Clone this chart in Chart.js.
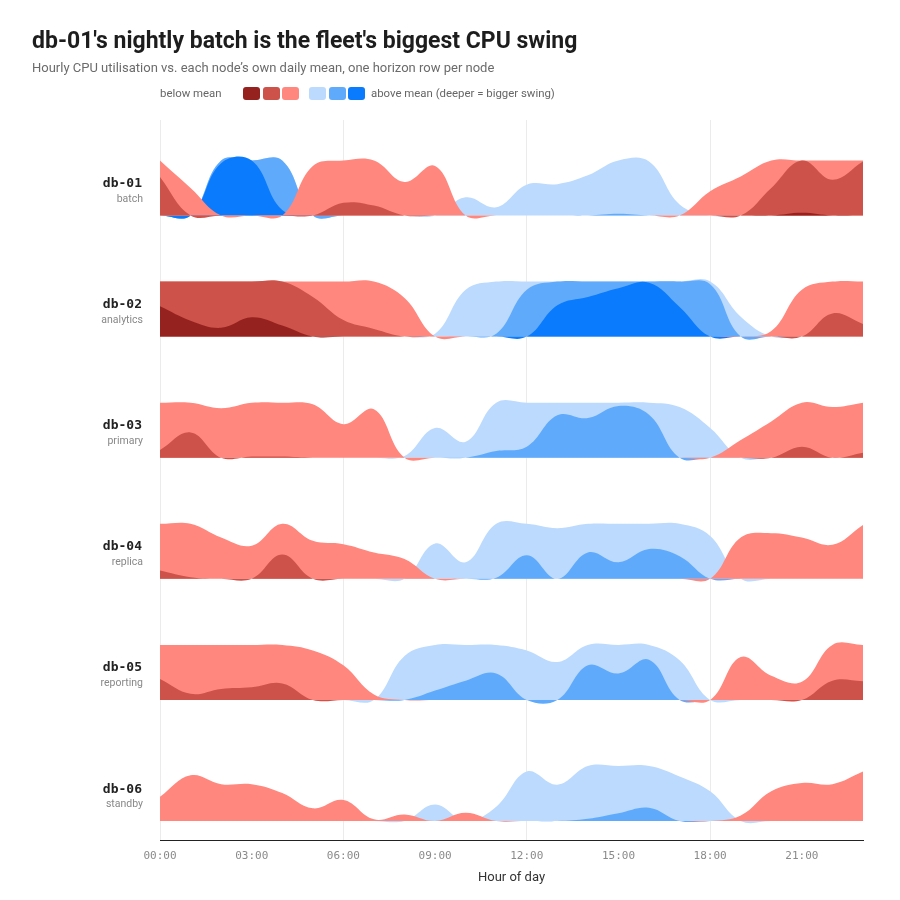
<!DOCTYPE html>
<html>
<head>
<meta charset="utf-8">
<title>CPU horizon chart</title>
<script src="https://cdn.jsdelivr.net/npm/chart.js@4.4.1/dist/chart.umd.min.js"></script>
<style>
  body { margin: 0; background: #fff; font-family: Roboto, "Noto Sans", sans-serif; }
  #wrap { position: relative; width: 900px; height: 900px; }
  #cpuChart { position: absolute; left: 0; top: 0; }
  .title { position: absolute; left: 32px; top: 29px; font-size: 23px; line-height: 23px; font-weight: 700; color: #1d1d1d; white-space: nowrap; }
  .subtitle { position: absolute; left: 32px; top: 61px; font-size: 13px; line-height: 13px; color: #6b6b6b; white-space: nowrap; }
  .lg { position: absolute; font-size: 11.4px; line-height: 13px; color: #666; white-space: nowrap; top: 87px; }
  .sw { position: absolute; top: 87px; width: 17px; height: 13px; border-radius: 3px; }
</style>
</head>
<body>
<div id="wrap">
  <canvas id="cpuChart" width="900" height="900"></canvas>
  <div class="title">db-01's nightly batch is the fleet's biggest CPU swing</div>
  <div class="subtitle">Hourly CPU utilisation vs. each node’s own daily mean, one horizon row per node</div>
  <div class="lg" style="left:160px">below mean</div>
  <div class="lg" style="left:371px">above mean (deeper = bigger swing)</div>
</div>
<script>
// hour of day, 0..23
const HOURS = [0, 1, 2, 3, 4, 5, 6, 7, 8, 9, 10, 11, 12, 13, 14, 15, 16, 17, 18, 19, 20, 21, 22, 23];
const TICK_HOURS = [0, 3, 6, 9, 12, 15, 18, 21];
const TICK_LABELS = ['00:00', '03:00', '06:00', '09:00', '12:00', '15:00', '18:00', '21:00'];

const NODES = ['db-01', 'db-02', 'db-03', 'db-04', 'db-05', 'db-06'];
const ROLES = ['batch', 'analytics', 'primary', 'replica', 'reporting', 'standby'];

// CPU % points above (+) / below (-) the node's own daily mean
const DB01 = [-17, -5, 29.5, 30, 21, -9, -12.3, -11.8, -6.1, -9, 3.3, 1.5, 5.6, 5.7, 7.3, 10.3, 9.8, 2, -4.4, -7.1, -15, -20.5, -16.5, -19.8];
const DB02 = [-25.5, -22.9, -21.6, -23.5, -22, -17.2, -13, -11.4, -7, 0.5, 8.5, 10.5, 18.5, 25.7, 27.2, 28.8, 29.8, 25.4, 19.5, 3.6, -1, -8.5, -14.2, -12.3];
const DB03 = [-11.4, -14.6, -9, -10.2, -10.2, -9.7, -6.1, -8.8, 0.3, 5.4, 2.9, 11.2, 12, 17.7, 17.2, 19.4, 17.8, 9.2, 5.4, -3.2, -6.6, -12, -9.2, -10.9];
const DB04 = [-11.5, -10.3, -7.5, -6, -14.4, -6.9, -6.3, -4.8, -3.6, 6.4, 3, 10.2, 14.3, 9.2, 14.8, 13, 15.4, 14.1, 7.8, -7.5, -8.3, -7.5, -6.2, -9.8];
const DB05 = [-13.8, -11.1, -12, -12.3, -13, -9, -6.3, -1, 8, 11.7, 13.5, 14.8, 9, 6.9, 16.3, 14.8, 17.3, 7.2, 0, -7.8, -4.4, -3.3, -13.5, -13.4];
const DB06 = [-4.4, -8.3, -6.7, -6.7, -5.1, -2.3, -3.8, -0.3, -1.2, 3, -1.5, 2.6, 9, 6.6, 10.4, 11.4, 12.4, 8.1, 5.4, -1, -5.4, -6.9, -6.7, -9];
const DEVIATIONS = [DB01, DB02, DB03, DB04, DB05, DB06];

const BAND_SIZE = 10; // percentage points per horizon band

const NEG_COLORS = ['#ff877d', '#cc524a', '#96221f']; // band 1..3 below mean
const POS_COLORS = ['#bbdafd', '#60aafc', '#097bfc']; // band 1..3 above mean

// layout of the rows inside the y scale (0..720 matches the plot height)
const ROW_BOTTOM = 19;
const ROW_STEP = 121.1;
const BAND_PX = 55;

function rowBase(r) {
  return ROW_BOTTOM + (NODES.length - 1 - r) * ROW_STEP;
}

function bandPoints(series, sign, k, base) {
  return series.map((v, i) => {
    const part = Math.min(Math.max(sign * v - k * BAND_SIZE, 0), BAND_SIZE);
    return { x: HOURS[i], y: base + part / BAND_SIZE * BAND_PX };
  });
}

// bottom-to-top paint order, reversed below because the filler paints the last dataset first
const layers = [];
DEVIATIONS.forEach((series, r) => {
  const base = rowBase(r);
  [[1, POS_COLORS], [-1, NEG_COLORS]].forEach(([sign, colors]) => {
    colors.forEach((color, k) => {
      layers.push({
        label: NODES[r] + (sign > 0 ? ' above' : ' below') + ' band ' + (k + 1),
        data: bandPoints(series, sign, k, base),
        backgroundColor: color,
        borderColor: 'rgba(0,0,0,0)',
        borderWidth: 0,
        pointRadius: 0,
        tension: 0.4,
        fill: { value: base }
      });
    });
  });
});
const datasets = layers.reverse();

// swatches of the legend
const wrap = document.getElementById('wrap');
NEG_COLORS.slice().reverse().concat(POS_COLORS).forEach((c, i) => {
  const d = document.createElement('div');
  d.className = 'sw';
  d.style.left = (i < 3 ? 243 + i * 19.7 : 309 + (i - 3) * 19.7) + 'px';
  d.style.background = c;
  wrap.appendChild(d);
});

const rowLabels = {
  id: 'rowLabels',
  afterDraw(chart) {
    const { ctx } = chart;
    const y = chart.scales.y;
    ctx.save();
    ctx.textAlign = 'right';
    ctx.textBaseline = 'alphabetic';
    NODES.forEach((node, r) => {
      const base = y.getPixelForValue(rowBase(r));
      ctx.font = 'bold 13px "DejaVu Sans Mono"';
      ctx.fillStyle = '#222';
      ctx.fillText(node, 142, base - 28.5);
      ctx.font = '10.5px Roboto';
      ctx.fillStyle = '#888';
      ctx.fillText(ROLES[r], 143, base - 14);
    });
    ctx.restore();
  }
};

new Chart(document.getElementById('cpuChart'), {
  type: 'line',
  data: { datasets },
  plugins: [rowLabels],
  options: {
    responsive: false,
    animation: false,
    layout: { padding: { left: 160, right: 37, top: 120, bottom: 10 } },
    plugins: {
      legend: { display: false },
      tooltip: { enabled: false }
    },
    scales: {
      x: {
        type: 'linear',
        min: 0,
        max: 23,
        afterBuildTicks: s => { s.ticks = TICK_HOURS.map(v => ({ value: v })); },
        afterFit: s => { s.height = 50; },
        grid: {
          color: c => (c.tick && c.tick.value % 6 === 0) ? '#ebebeb' : 'rgba(0,0,0,0)',
          drawTicks: false
        },
        border: { display: true, color: '#222', width: 1 },
        ticks: {
          padding: 10,
          autoSkip: false,
          maxRotation: 0,
          color: '#8a8a8a',
          font: { family: 'DejaVu Sans Mono', size: 11 },
          callback: v => TICK_LABELS[TICK_HOURS.indexOf(v)]
        },
        title: {
          display: true,
          text: 'Hour of day',
          color: '#333',
          font: { family: 'Roboto', size: 13 },
          padding: { top: 4, bottom: 4 }
        }
      },
      y: { display: false, min: 0, max: 720 }
    }
  }
});
</script>
</body>
</html>
